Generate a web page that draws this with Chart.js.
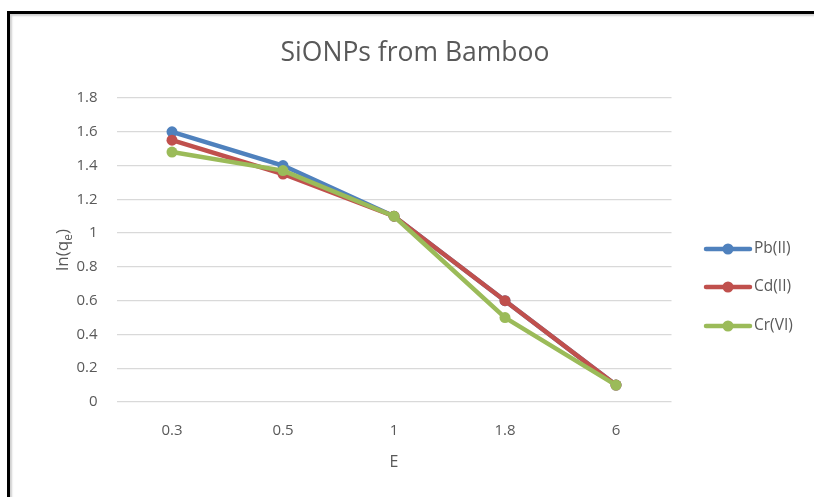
<!DOCTYPE html>
<html>
<head>
<meta charset="utf-8">
<script src="https://cdn.jsdelivr.net/npm/chart.js@4.4.1/dist/chart.umd.min.js"></script>
<style>
  body { margin: 0; background: #fff; overflow: hidden; }
  #wrap { position: relative; width: 814px; height: 497px; }
  #frame {
    position: absolute; left: 7px; top: 11px; width: 830px; height: 510px;
    border-left: 3px solid #000; border-top: 3px solid #000;
    box-shadow: inset 2px 2px 2px #d0d0d0;
  }
  canvas { position: absolute; left: 0; top: 0; }
</style>
</head>
<body>
<div id="wrap">
  <div id="frame"></div>
  <canvas id="grafico" width="814" height="497"></canvas>
</div>
<script>
// categorias do eixo E e valores de ln(qe)
const categorias = ['0.3', '0.5', '1', '1.8', '6'];
const pb = [1.6, 1.4, 1.1, 0.6, 0.1];
const cd = [1.55, 1.35, 1.1, 0.6, 0.1];
const cr = [1.48, 1.37, 1.1, 0.5, 0.1];
const ticksY = [0, 0.2, 0.4, 0.6, 0.8, 1, 1.2, 1.4, 1.6, 1.8];

const fonte = '"Open Sans", Lato, sans-serif';
const cinza = '#595959';

// legenda desenhada à direita (linha + marcador)
const legendaLateral = {
  id: 'legendaLateral',
  afterDraw(chart) {
    const ctx = chart.ctx;
    const posY = [249, 287, 326];
    chart.data.datasets.forEach((ds, i) => {
      const y = posY[i];
      ctx.save();
      ctx.strokeStyle = ds.borderColor;
      ctx.lineWidth = 4.5;
      ctx.lineCap = 'round';
      ctx.beginPath();
      ctx.moveTo(706, y);
      ctx.lineTo(750, y);
      ctx.stroke();
      ctx.fillStyle = ds.borderColor;
      ctx.beginPath();
      ctx.arc(728, y, 5.5, 0, Math.PI * 2);
      ctx.fill();
      ctx.fillStyle = cinza;
      ctx.font = '15.5px ' + fonte;
      ctx.textBaseline = 'middle';
      ctx.textAlign = 'left';
      ctx.fillText(ds.label, 754, y);
      ctx.restore();
    });
  }
};

// título do eixo y com o "e" subscrito
const tituloY = {
  id: 'tituloY',
  afterDraw(chart) {
    const ctx = chart.ctx;
    const area = chart.chartArea;
    const partes = [['ln(q', 17, 0], ['e', 12, 4], [')', 17, 0]];
    ctx.save();
    ctx.fillStyle = cinza;
    ctx.textBaseline = 'alphabetic';
    ctx.textAlign = 'left';
    let total = 0;
    partes.forEach(p => { ctx.font = p[1] + 'px ' + fonte; total += ctx.measureText(p[0]).width; });
    ctx.translate(68, (area.top + area.bottom) / 2);
    ctx.rotate(-Math.PI / 2);
    let x = -total / 2;
    partes.forEach(p => {
      ctx.font = p[1] + 'px ' + fonte;
      ctx.fillText(p[0], x, p[2]);
      x += ctx.measureText(p[0]).width;
    });
    ctx.restore();
  }
};

function serie(label, dados, cor, ordem) {
  return {
    label: label,
    data: dados,
    borderColor: cor,
    backgroundColor: cor,
    borderWidth: 4.5,
    pointRadius: 5.5,
    pointHoverRadius: 5.5,
    pointBorderWidth: 0,
    borderJoinStyle: 'round',
    borderCapStyle: 'round',
    tension: 0,
    order: ordem
  };
}

new Chart(document.getElementById('grafico'), {
  type: 'line',
  data: {
    labels: categorias,
    datasets: [
      serie('Pb(II)', pb, '#4F81BD', 2),
      serie('Cd(II)', cd, '#C0504D', 1),
      serie('Cr(VI)', cr, '#9BBB59', 0)
    ]
  },
  plugins: [legendaLateral, tituloY],
  options: {
    responsive: false,
    animation: false,
    events: [],
    layout: { padding: { left: 16, right: 0, top: 0, bottom: 0 } },
    plugins: {
      legend: { display: false },
      tooltip: { enabled: false },
      title: {
        display: true,
        text: 'SiONPs from Bamboo',
        color: cinza,
        font: { family: fonte, size: 26.5, weight: 'normal', lineHeight: 1.2 },
        padding: { top: 37.5, bottom: 28.7 }
      }
    },
    scales: {
      x: {
        offset: true,
        grid: { display: false, drawTicks: false },
        border: { display: false },
        ticks: { color: cinza, font: { family: fonte, size: 15 }, padding: 20 },
        title: {
          display: true, text: 'E', color: cinza,
          font: { family: fonte, size: 16, lineHeight: 1.2 },
          padding: { top: 4, bottom: 25 }
        },
        afterFit(scale) { scale.height = 95; }
      },
      y: {
        min: 0, max: 1.8,
        afterBuildTicks(scale) { scale.ticks = ticksY.map(v => ({ value: v })); },
        grid: { color: '#d9d9d9', lineWidth: 1.3, drawTicks: false },
        border: { display: false },
        ticks: {
          color: cinza, font: { family: fonte, size: 15 }, padding: 19,
          callback: v => String(v)
        },
        title: { display: false },
        afterFit(scale) { scale.width = 100.5; }
      },
      // espaço reservado para a legenda à direita
      reserva: {
        type: 'linear', position: 'right', display: true,
        grid: { display: false, drawTicks: false },
        border: { display: false },
        ticks: { display: false },
        afterFit(scale) { scale.width = 142.5; }
      }
    }
  }
});
</script>
</body>
</html>
